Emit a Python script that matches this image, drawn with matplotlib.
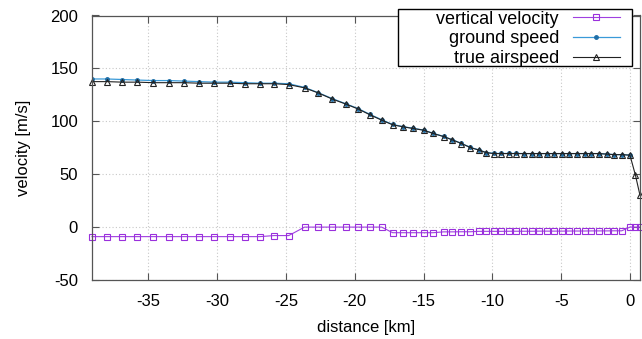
import numpy as np
import matplotlib
matplotlib.use("Agg")
import matplotlib.pyplot as plt
from matplotlib.patches import Rectangle

plt.rcParams['font.family'] = ['Liberation Sans', 'DejaVu Sans']
plt.rcParams['axes.unicode_minus'] = False

# distance [km] of the samples
distance = [-39.1, -38.0, -36.9, -35.8, -34.65, -33.5, -32.4, -31.3, -30.2, -29.1,
            -28.0, -26.9, -25.85, -24.8, -23.65, -22.65, -21.65, -20.65, -19.75, -18.9,
            -18.05, -17.25, -16.5, -15.75, -15.0, -14.3, -13.55, -12.9, -12.25, -11.6,
            -11.0, -10.45, -9.9, -9.35, -8.8, -8.25, -7.7, -7.1, -6.6, -6.0,
            -5.5, -4.95, -4.4, -3.85, -3.3, -2.8, -2.25, -1.7, -1.15, -0.6,
            0.0, 0.4, 0.73]

vertical_velocity = [-9, -9, -9, -9, -9, -9, -9, -9, -9, -9,
                     -9, -9, -8, -8, 0, 0, 0, 0, 0, 0,
                     0, -5.3, -5.3, -5.3, -5.3, -5.3, -4.5, -4.5, -4.4, -4.4,
                     -4.0, -4.0, -4.0, -4.0, -3.9, -3.9, -3.9, -3.9, -3.8, -3.8,
                     -3.8, -3.8, -3.7, -3.7, -3.7, -3.6, -3.6, -3.6, -3.5, -3.5,
                     0, 0, 0]

ground_speed = [140, 140, 139.5, 139, 138.5, 138.5, 138, 137.5, 137, 137,
                136.5, 136, 136, 135.5, 132, 127, 121.5, 116.5, 112, 106.5,
                101.5, 97, 95, 93.3, 91.7, 88.6, 85.7, 82.5, 79.1, 75.3,
                73, 70.5, 69.6, 69.6, 69.6, 69.6, 69.5, 69.5, 69.5, 69.5,
                69.5, 69.5, 69.5, 69.5, 69.5, 69.5, 69.5, 69, 68.5, 68.5,
                68]

true_airspeed = [137.5, 137.5, 137, 137, 136.5, 136.5, 136.5, 136, 136, 136,
                 135.5, 135.5, 135.5, 134.7, 131.6, 126.8, 121.1, 116.3, 111.6, 106.2,
                 101.1, 96.7, 94.8, 93.2, 91.6, 88.5, 85.6, 82.4, 79, 75.2,
                 72.9, 70.4, 69.5, 69.5, 69.5, 69.5, 69.5, 69.5, 69.5, 69.5,
                 69.5, 69.5, 69.5, 69.5, 69.5, 69.5, 69.5, 69, 68.5, 68.5,
                 68, 49, 30]

W, H = 642, 339
fig = plt.figure(figsize=(W / 100, H / 100), dpi=100)
ax = fig.add_axes([92/W, 59/H, 548/W, 264.5/H])

n_gs = len(ground_speed)
ax.plot(distance, vertical_velocity, color='#a040e0', lw=0.8, marker='s', ms=4.2,
        mfc='none', mec='#9a30dc', mew=0.8, label='vertical velocity', clip_on=False)
ax.plot(distance[:n_gs], ground_speed, color='#3a9ad8', lw=0.9, marker='o', ms=2.5,
        mfc='#1f6fa8', mec='#1f6fa8', label='ground speed')
ax.plot(distance, true_airspeed, color='#222222', lw=0.8, marker='^', ms=4.2,
        mfc='none', mec='#222222', mew=0.8, label='true airspeed', clip_on=False)

ax.set_xlim(-39.1, 0.73)
ax.set_ylim(-50, 200)
ax.set_xticks(np.arange(-35, 1, 5))
ax.set_yticks(np.arange(-50, 201, 50))
ax.grid(True, color='#c8c8c8', linestyle=(0, (1, 2)), lw=0.8)
ax.set_axisbelow(True)

ax.tick_params(direction='in', length=5, width=0.8, color='#555555',
               top=True, right=True, labelsize=12, pad=10)
for s in ax.spines.values():
    s.set_color('#555555')
    s.set_linewidth(0.9)

ax.set_xlabel('distance [km]', fontsize=12, labelpad=8)
ax.set_ylabel('velocity [m/s]', fontsize=12, labelpad=14)

# legend box drawn separately (gnuplot-like wide key)
box_l, box_r, box_t, box_b = 398, 632, 9, 66
ax.add_patch(Rectangle((box_l / W, 1 - box_b / H), (box_r - box_l) / W,
                       (box_b - box_t) / H, transform=fig.transFigure,
                       facecolor='white', edgecolor='black', lw=1.0,
                       zorder=5, clip_on=False))
leg = ax.legend(loc='upper right', bbox_to_anchor=(624/W, 1 - 7/H),
                bbox_transform=fig.transFigure, markerfirst=False, fontsize=13,
                frameon=False, handlelength=2.65, handletextpad=0.75,
                labelspacing=0.15, borderpad=0.2, borderaxespad=0)
leg.set_zorder(6)

fig.savefig('out.png', dpi=100)
